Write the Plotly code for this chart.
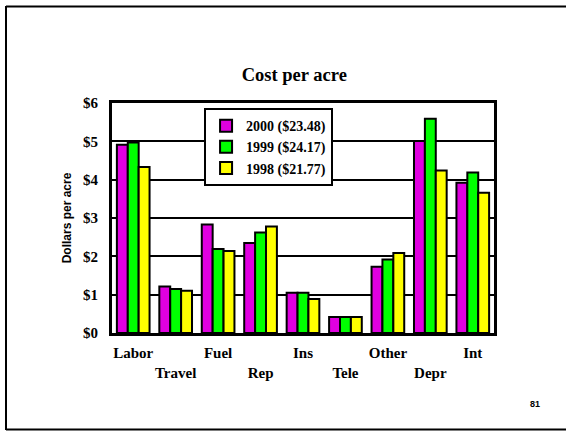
import plotly.graph_objects as go

categories = ["Labor", "Travel", "Fuel", "Rep", "Ins", "Tele", "Other", "Depr", "Int"]
tick_labels = ["Labor", "<br>Travel", "Fuel", "<br>Rep", "Ins", "<br>Tele", "Other", "<br>Depr", "Int"]
v2000 = [4.91, 1.21, 2.83, 2.35, 1.05, 0.42, 1.73, 5.01, 3.92]
v1999 = [4.97, 1.15, 2.19, 2.62, 1.05, 0.42, 1.92, 5.59, 4.19]
v1998 = [4.33, 1.10, 2.14, 2.78, 0.89, 0.42, 2.09, 4.24, 3.66]
series_names = ["2000 ($23.48)", "1999 ($24.17)", "1998 ($21.77)"]
colors = ["#E000E0", "#00FF00", "#FFFF00"]
y_ticks = [0, 1, 2, 3, 4, 5, 6]
y_tick_labels = ["$0", "$1", "$2", "$3", "$4", "$5", "$6"]

fig = go.Figure()
for name, vals, col in zip(series_names, [v2000, v1999, v1998], colors):
    fig.add_trace(go.Bar(x=categories, y=vals, name=name,
                         marker=dict(color=col, line=dict(color="black", width=2))))

serif = "Liberation Serif, Times New Roman, serif"
sans = "Liberation Sans, Arial, sans-serif"

fig.update_layout(
    width=566, height=431,
    margin=dict(l=112, r=72, t=103, b=98),
    paper_bgcolor="white", plot_bgcolor="white",
    barmode="group", bargap=0.23, bargroupgap=0,
    font=dict(family=serif, color="black", size=15),
    title=dict(text="<b>Cost per acre</b>", x=0.520, xanchor="center", y=0.826, yanchor="middle",
               font=dict(family=serif, size=18.5, color="black")),
    showlegend=True,
    legend=dict(x=0.241, y=0.978, xanchor="left", yanchor="top",
                bgcolor="white", bordercolor="black", borderwidth=2,
                font=dict(family=serif, size=14, color="black", weight="bold"),
                tracegroupgap=0, itemwidth=30),
    xaxis=dict(tickmode="array", tickvals=categories, ticktext=tick_labels,
               showline=True, linecolor="black", linewidth=3, mirror=True,
               ticks="", showgrid=False, ticklabelstandoff=4, tickangle=0,
               tickfont=dict(family=serif, size=15, color="black", weight="bold")),
    yaxis=dict(range=[0, 6], tickmode="array", tickvals=y_ticks, ticktext=y_tick_labels,
               showline=True, linecolor="black", linewidth=3, mirror=True,
               ticks="inside", ticklen=4, tickwidth=2, tickcolor="black",
               showgrid=True, gridcolor="black", gridwidth=2, zeroline=False,
               ticklabelstandoff=8,
               tickfont=dict(family=serif, size=15, color="black", weight="bold"),
               title=dict(text="<b>Dollars per acre</b>", standoff=9,
                          font=dict(family=sans, size=12, color="black"))),
)

# slide frame (top, left, bottom edges)
W, H = 566, 431
pw, ph = W - 112 - 72, H - 103 - 98
def px(x): return (x - 112) / pw
def py(y): return (H - 98 - y) / ph
fig.add_shape(type="line", xref="paper", yref="paper", x0=px(6), y0=py(6.5), x1=px(570), y1=py(6.5),
              line=dict(color="black", width=2))
fig.add_shape(type="line", xref="paper", yref="paper", x0=px(6), y0=py(6), x1=px(6), y1=py(430),
              line=dict(color="black", width=2))
fig.add_shape(type="line", xref="paper", yref="paper", x0=px(6), y0=py(429.5), x1=px(570), y1=py(429.5),
              line=dict(color="black", width=2))
fig.add_annotation(text="<b>81</b>", xref="paper", yref="paper", x=px(542), y=py(411),
                   showarrow=False, font=dict(family=sans, size=9, color="black"))

fig.write_html("out.html", config={"displayModeBar": False},
               post_script="document.body.style.margin='0px';")
